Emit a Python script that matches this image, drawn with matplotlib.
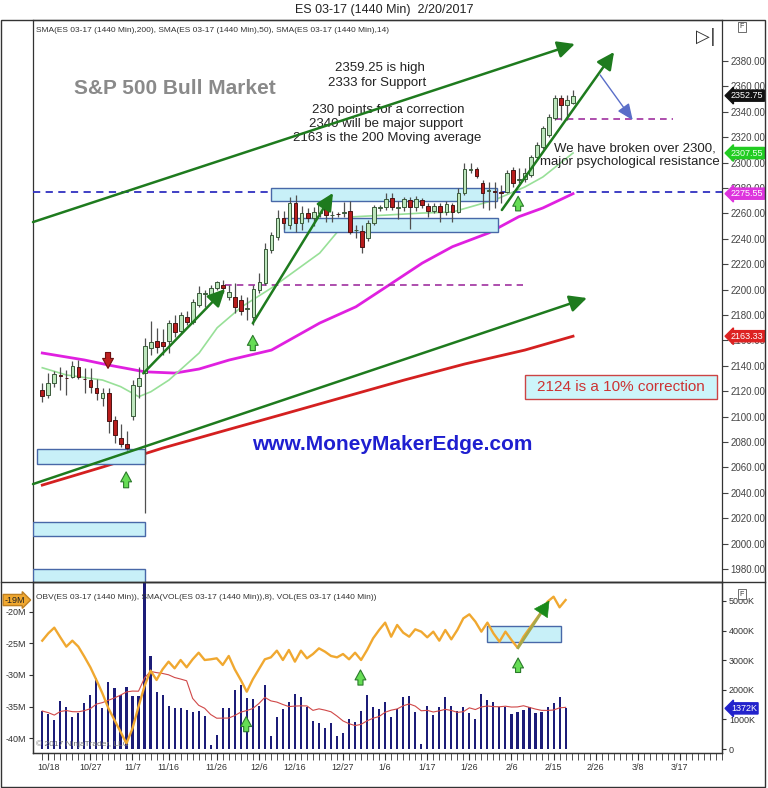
import numpy as np
import pandas as pd
import matplotlib
matplotlib.use("Agg")
import matplotlib.pyplot as plt
import matplotlib.transforms as mtransforms
from matplotlib.patches import Rectangle
from matplotlib.lines import Line2D

plt.rcParams["font.family"] = ["Liberation Sans", "DejaVu Sans"]

# daily bars, bar 0 = 10/17/2016
opens = [2121.0, 2117.0, 2126.5, 2132.5, 2130.5, 2131.4, 2139.3, 2130.0, 2128.8, 2122.5,
         2114.6, 2118.3, 2097.3, 2083.2, 2078.4, 2100.5, 2124.1, 2134.1, 2154.3, 2159.5,
         2159.0, 2159.5, 2173.4, 2167.7, 2178.7, 2174.8, 2187.9, 2196.5, 2195.7, 2201.0,
         2204.0, 2194.5, 2194.4, 2192.0, 2185.0, 2178.7, 2199.7, 2204.9, 2231.2, 2241.7,
         2256.1, 2250.9, 2267.9, 2252.2, 2260.1, 2256.1, 2260.1, 2267.9, 2258.6, 2259.4,
         2260.5, 2261.9, 2246.6, 2246.4, 2240.4, 2252.7, 2264.6, 2264.8, 2271.9, 2264.6,
         2264.8, 2270.5, 2264.8, 2270.5, 2265.8, 2261.9, 2265.8, 2260.8, 2266.6, 2261.4,
         2275.8, 2294.2, 2294.7, 2283.7, 2277.6, 2277.4, 2277.0, 2277.1, 2294.2, 2286.5,
         2286.8, 2290.2, 2304.7, 2312.6, 2322.0, 2334.9, 2350.6, 2345.4, 2346.7]
highs = [2126.5, 2134.0, 2135.9, 2139.0, 2136.7, 2143.8, 2144.6, 2138.0, 2138.0, 2129.6,
         2122.8, 2122.5, 2100.5, 2094.2, 2088.7, 2128.8, 2139.3, 2161.9, 2175.3, 2169.5,
         2168.7, 2176.0, 2180.0, 2182.0, 2183.0, 2193.0, 2203.0, 2200.0, 2204.0, 2207.0,
         2207.5, 2203.5, 2204.9, 2196.0, 2194.0, 2203.6, 2212.8, 2236.4, 2245.6, 2263.0,
         2262.0, 2273.2, 2274.5, 2266.0, 2264.0, 2265.0, 2269.0, 2270.0, 2262.0, 2261.0,
         2269.2, 2270.0, 2250.9, 2251.0, 2255.0, 2267.0, 2267.0, 2275.8, 2275.8, 2270.0,
         2273.0, 2273.0, 2274.0, 2272.0, 2268.0, 2268.0, 2268.0, 2269.5, 2268.0, 2279.7,
         2299.4, 2299.4, 2296.8, 2286.3, 2285.0, 2285.0, 2282.0, 2294.2, 2296.3, 2295.5,
         2295.5, 2306.0, 2316.0, 2329.0, 2338.0, 2353.2, 2353.2, 2353.0, 2357.2]
lows = [2111.5, 2114.6, 2123.3, 2121.0, 2117.0, 2130.4, 2129.6, 2119.0, 2118.6, 2113.0,
        2108.0, 2087.0, 2079.2, 2076.0, 2073.7, 2097.3, 2114.6, 2024.0, 2148.5, 2150.0,
        2148.5, 2150.0, 2163.0, 2165.0, 2172.0, 2173.0, 2186.0, 2186.0, 2194.0, 2200.0,
        2197.0, 2192.0, 2181.3, 2180.0, 2176.0, 2172.0, 2197.0, 2203.6, 2228.6, 2239.0,
        2248.0, 2248.0, 2245.0, 2247.0, 2253.0, 2250.0, 2257.0, 2253.0, 2253.0, 2257.0,
        2257.0, 2244.0, 2240.4, 2228.6, 2238.0, 2250.6, 2262.0, 2263.0, 2263.0, 2256.0,
        2262.0, 2248.0, 2262.0, 2264.0, 2257.0, 2260.0, 2253.0, 2259.0, 2253.0, 2260.0,
        2274.5, 2291.5, 2287.6, 2264.0, 2262.7, 2264.0, 2268.0, 2275.8, 2281.0, 2283.7,
        2285.0, 2289.0, 2303.0, 2311.0, 2320.0, 2333.5, 2333.5, 2333.5, 2346.0]
closes = [2116.2, 2126.7, 2133.5, 2132.0, 2130.2, 2139.8, 2131.4, 2129.4, 2123.5, 2118.6,
          2118.3, 2096.5, 2085.5, 2078.4, 2075.0, 2124.9, 2130.6, 2155.6, 2159.0, 2155.1,
          2155.6, 2174.0, 2166.9, 2180.0, 2174.8, 2190.5, 2197.1, 2196.8, 2201.0, 2206.3,
          2201.0, 2198.0, 2186.6, 2183.0, 2185.6, 2200.2, 2206.2, 2231.7, 2243.0, 2256.1,
          2252.2, 2267.9, 2252.2, 2260.1, 2256.1, 2261.4, 2267.9, 2258.7, 2258.9, 2259.2,
          2261.0, 2245.6, 2246.9, 2233.8, 2252.7, 2264.8, 2265.0, 2271.1, 2264.8, 2265.0,
          2271.1, 2265.3, 2271.1, 2266.6, 2261.9, 2265.8, 2261.4, 2267.4, 2261.4, 2275.8,
          2294.7, 2295.0, 2289.5, 2275.8, 2278.2, 2276.9, 2275.8, 2291.5, 2283.7, 2287.0,
          2291.5, 2304.7, 2313.8, 2327.0, 2336.2, 2350.6, 2345.4, 2349.3, 2352.75]

# volume in K contracts
volume_k = [1284, 1172, 980, 1632, 1430, 1070, 1228, 1566, 1824, 2410,
            1374, 2275, 2050, 1824, 2106, 1790, 1790, 6000, 3141, 1937,
            1824, 1464, 1374, 1374, 1318, 1239, 1284, 1126, 135, 473,
            1396, 1396, 1993, 2162, 1711, 1677, 1452, 2162, 451, 1070,
            1340, 1599, 1846, 1745, 1430, 958, 867, 721, 890, 440,
            530, 1002, 924, 1284, 1824, 1430, 1340, 1599, 1092, 1340,
            1768, 1790, 1239, 158, 1464, 1149, 1407, 1745, 1464, 1284,
            1407, 1205, 1002, 1858, 1655, 1576, 1430, 1430, 1182, 1239,
            1317, 1407, 1205, 1239, 1407, 1543, 1768, 1372]

# on balance volume in millions
obv_m = [-24.55, -23.39, -22.49, -24.02, -25.50, -24.55, -25.50, -27.09, -28.78, -30.79,
         -32.91, -35.29, -37.14, -38.99, -40.85, -38.47, -35.03, -31.75, -29.31, -30.79,
         -29.10, -27.88, -28.94, -27.62, -28.78, -27.51, -26.46, -27.62, -27.51, -27.35,
         -28.41, -26.98, -29.10, -30.79, -32.65, -30.69, -29.10, -27.51, -27.20, -26.14,
         -27.62, -26.03, -27.88, -26.14, -27.35, -26.67, -25.77, -26.30, -26.98, -27.20,
         -26.67, -27.51, -26.46, -27.62, -26.03, -24.18, -22.86, -21.69, -23.92, -22.06,
         -23.28, -23.92, -22.75, -23.12, -24.02, -23.12, -24.55, -22.86, -24.34, -22.86,
         -21.01, -20.37, -21.53, -23.12, -21.69, -23.39, -24.71, -23.12, -24.44, -25.66,
         -23.92, -22.59, -21.27, -19.95, -18.36, -17.57, -19.26, -18.10]

sma200_idx = [0, 10, 20, 30, 40, 50, 60, 70, 80, 88]
sma200 = [2046.1, 2060.3, 2075.3, 2088.7, 2102.0, 2115.4, 2128.8, 2141.4, 2152.4, 2163.33]
sma50_idx = [0, 7, 11, 17, 22, 26, 31, 38, 46, 52, 58, 63, 68, 74, 79, 83, 88]
sma50 = [2150.1, 2144.6, 2140.6, 2135.3, 2134.3, 2137.5, 2144.6, 2152.4, 2173.7, 2186.5,
         2205.2, 2220.9, 2233.8, 2244.6, 2257.4, 2264.3, 2275.55]
sma14_idx = [0, 4, 10, 13, 16, 18, 21, 26, 29, 33, 38, 46, 51, 57, 63, 68, 75, 80, 83, 88]
sma14 = [2138.5, 2132.8, 2128.8, 2123.6, 2115.7, 2119.6, 2128.8, 2150.1, 2170.0, 2186.3,
         2201.3, 2228.8, 2257.2, 2258.7, 2260.3, 2261.1, 2270.6, 2280.8, 2288.7, 2307.55]

date_ticks = [1, 8, 15, 21, 29, 36, 42, 50, 57, 64, 71, 78, 85, 92, 99, 106]
date_labels = ["10/18", "10/27", "11/7", "11/16", "11/26", "12/6", "12/16", "12/27",
               "1/6", "1/17", "1/26", "2/6", "2/15", "2/26", "3/8", "3/17"]
price_ticks = list(range(1980, 2381, 20))

W, H = 768, 788


def fx(px):
    return px / W


def fy(py):
    return 1 - py / H


fig = plt.figure(figsize=(W / 100, H / 100), dpi=100)
ax = fig.add_axes([fx(33), fy(582), (722 - 33) / W, (582 - 20) / H])
ax2 = fig.add_axes([fx(33), fy(753), (722 - 33) / W, (753 - 582) / H])
ax3 = ax2.twinx()
ax2.set_zorder(ax3.get_zorder() + 1)
ax2.patch.set_visible(False)

x = np.arange(len(closes))
o = np.array(opens)
c = np.array(closes)
up = c >= o
body = np.maximum(np.abs(c - o), 0.5)
bottom = np.minimum(o, c)

# main price panel
ax.plot(sma200_idx, sma200, color="#d42020", lw=2, zorder=2)
ax.plot(sma50_idx, sma50, color="#e020e0", lw=2, zorder=2)
ax.plot(sma14_idx, sma14, color="#98e098", lw=1.2, zorder=2)

ax.vlines(x, lows, highs, color="#505050", lw=0.9, zorder=4)
ax.bar(x[up], body[up], bottom=bottom[up], width=0.62, color="#bde6bd",
       edgecolor="#3a5a3a", lw=0.7, zorder=5)
ax.bar(x[~up], body[~up], bottom=bottom[~up], width=0.62, color="#b81c1c",
       edgecolor="#4a1515", lw=0.7, zorder=5)

ax.axhline(2277, color="#3030c0", ls=(0, (4, 3)), lw=1.3, zorder=3)
ax.plot([30.3, 79.7], [2203.6, 2203.6], color="#a030a0", ls=(0, (4, 3)), lw=1.2, zorder=3)
ax.plot([85, 104.6], [2334.3, 2334.3], color="#a030a0", ls=(0, (4, 3)), lw=1.2, zorder=3)

boxes = [(37.9, 2270.0, 37.5, 9.8), (40.0, 2245.6, 35.5, 10.5), (-0.9, 2062.7, 17.9, 11.8),
         (-1.5, 2006.2, 18.5, 11.0), (-1.5, 1960.0, 18.5, 19.8)]
for bx, by, bw, bh in boxes:
    ax.add_patch(Rectangle((bx, by), bw, bh, fc="#c8f0f8", ec="#4868a8", lw=1, zorder=3.5))

green_arrow = dict(arrowstyle="-|>,head_length=0.65,head_width=0.32", color="#1e7b1e",
                   lw=1.8, mutation_scale=16, shrinkA=0, shrinkB=0)
for (x0, y0), (x1, y1) in [((-1.54, 2253.2), (88.3, 2393.4)),
                           ((-1.54, 2046.9), (90.3, 2193.4)),
                           ((16.75, 2134.1), (30.3, 2200.5)),
                           ((34.9, 2173.5), (48.2, 2276.1)),
                           ((76.2, 2262.7), (94.8, 2387.1))]:
    ax.annotate("", xy=(x1, y1), xytext=(x0, y0), arrowprops=green_arrow, zorder=6)
ax.annotate("", xy=(97.9, 2333.5), xytext=(92.5, 2369),
            arrowprops=dict(arrowstyle="-|>,head_length=0.7,head_width=0.3", color="#5a6ec8",
                            lw=1, mutation_scale=14, shrinkA=0, shrinkB=0), zorder=6)

block_up = dict(arrowstyle="simple,head_length=0.55,head_width=0.6,tail_width=0.28",
                fc="#66dd55", ec="#2a7a2a", lw=0.8, mutation_scale=13, shrinkA=0, shrinkB=0)
for bx, tip, tail in [(13.9, 2056.5, 2044.0), (34.9, 2164.0, 2152.0), (78.9, 2273.5, 2262.0)]:
    ax.annotate("", xy=(bx, tip), xytext=(bx, tail), arrowprops=block_up, zorder=7)
ax.annotate("", xy=(10.9, 2138.0), xytext=(10.9, 2150.5),
            arrowprops=dict(block_up, fc="#c02020", ec="#701010"), zorder=7)

note = dict(ha="center", va="center", fontsize=9.5, color="#222222")
ax.text(22.0, 2358.7, "S&P 500 Bull Market", ha="center", va="center", fontsize=15,
        fontweight="bold", color="#8a8a8a")
ax.text(56.0, 2374.5, "2359.25 is high", **note)
ax.text(55.5, 2362.7, "2333 for Support", **note)
ax.text(57.3, 2341.4, "230 points for a correction", **note)
ax.text(57.0, 2330.4, "2340 will be major support", **note)
ax.text(57.2, 2319.4, "2163 is the 200 Moving average", **note)
ax.text(111.7, 2311.5, "We have broken over 2300,", ha="right", va="center", fontsize=9.5,
        color="#222222")
ax.text(112.3, 2300.5, "major psychological resistance", ha="right", va="center", fontsize=9.5,
        color="#222222")
ax.add_patch(Rectangle((80.05, 2113.9), 31.85, 18.9, fc="#ccf5fa", ec="#cc4444", lw=1, zorder=3))
ax.text(96.0, 2123.3, "2124 is a 10% correction", ha="center", va="center", fontsize=11,
        color="#cc3333", zorder=4)
ax.text(58.0, 2078.4, "www.MoneyMakerEdge.com", ha="center", va="center", fontsize=15,
        fontweight="bold", color="#1f1fd0")
ax.text(0.0045, 0.982, "SMA(ES 03-17 (1440 Min),200), SMA(ES 03-17 (1440 Min),50), "
        "SMA(ES 03-17 (1440 Min),14)", transform=ax.transAxes, ha="left", va="center",
        fontsize=6, color="#333333")

ax.set_xlim(-1.54, 112.7)
ax.set_ylim(1969.8, 2412.3)
ax.set_xticks([])
ax.yaxis.tick_right()
ax.set_yticks(price_ticks)
ax.set_yticklabels([f"{p:.2f}" for p in price_ticks])
ax.tick_params(axis="y", direction="out", length=4, labelsize=7, colors="#444444", pad=2)
for s in ax.spines.values():
    s.set_color("#333333")
    s.set_linewidth(0.9)

trans = mtransforms.blended_transform_factory(ax.transAxes, ax.transData)
for val, fc, tc in [(2352.75, "#111111", "white"), (2307.55, "#22cc22", "#e8ffe8"),
                    (2275.55, "#dd33dd", "white"), (2163.33, "#dd2222", "white")]:
    ax.text(1.013, val, f"{val:.2f}", transform=trans, ha="left", va="center", fontsize=6.5,
            color=tc, bbox=dict(boxstyle="larrow,pad=0.12", fc=fc, ec=fc), clip_on=False,
            zorder=10)

# lower panel: OBV, volume and its 8 bar average
vx = np.arange(len(volume_k))
vol_sma = pd.Series(volume_k).rolling(8, min_periods=1).mean()
ax3.bar(vx, volume_k, width=0.35, color="#1c1c78", zorder=2)
ax3.plot(vx, vol_sma, color="#d04848", lw=0.8, zorder=3)
ax2.plot(np.arange(len(obv_m)), obv_m, color="#f0a830", lw=1.7, zorder=4)

ax2.add_patch(Rectangle((74.0, -24.8), 12.3, 2.6, fc="#c8f0f8", ec="#4868a8", lw=1, zorder=3))
ax2.plot([79.1, 84.0], [-25.67, -18.6], color="#a8a84a", lw=2, zorder=5)
ax2.annotate("", xy=(84.3, -18.2), xytext=(83.6, -19.2),
             arrowprops=dict(arrowstyle="-|>,head_length=0.65,head_width=0.35", color="#1a8a1a",
                             lw=0.5, mutation_scale=16, shrinkA=0, shrinkB=0), zorder=6)
for bx, tip, tail in [(33.9, -36.6, -39.0), (52.9, -29.2, -31.6), (79.1, -27.3, -29.6)]:
    ax2.annotate("", xy=(bx, tip), xytext=(bx, tail), arrowprops=block_up, zorder=7)

ax2.set_xlim(-1.54, 112.7)
ax2.set_ylim(-42.38, -15.24)
ax3.set_ylim(-135, 5641)
ax2.set_yticks([-20, -25, -30, -35, -40])
ax2.set_yticklabels(["-20M", "-25M", "-30M", "-35M", "-40M"])
ax3.set_yticks([0, 1000, 2000, 3000, 4000, 5000])
ax3.set_yticklabels(["0", "1000K", "2000K", "3000K", "4000K", "5000K"])
ax2.set_xticks(date_ticks)
ax2.set_xticklabels(date_labels)
ax2.set_xticks(np.arange(0, 114), minor=True)
ax2.tick_params(axis="x", which="both", direction="out", length=5, labelsize=6.5,
                colors="#333333", pad=2)
ax2.tick_params(axis="y", direction="out", length=3, labelsize=6.5, colors="#333333", pad=2)
ax3.tick_params(axis="y", direction="out", length=3, labelsize=6.5, colors="#333333", pad=2)
for a in (ax2, ax3):
    for s in a.spines.values():
        s.set_color("#333333")
        s.set_linewidth(0.9)

trans2 = mtransforms.blended_transform_factory(ax2.transAxes, ax2.transData)
ax2.text(-0.012, obv_m[-1], "-19M", transform=trans2, ha="right", va="center", fontsize=6.5,
         color="#222222", bbox=dict(boxstyle="rarrow,pad=0.12", fc="#f0a830", ec="#c08020"),
         clip_on=False, zorder=10)
trans3 = mtransforms.blended_transform_factory(ax3.transAxes, ax3.transData)
ax3.text(1.013, volume_k[-1], "1372K", transform=trans3, ha="left", va="center", fontsize=6.5,
         color="white", bbox=dict(boxstyle="larrow,pad=0.12", fc="#2222cc", ec="#2222cc"),
         clip_on=False, zorder=10)
ax2.text(0.0045, 0.91, "OBV(ES 03-17 (1440 Min)), SMA(VOL(ES 03-17 (1440 Min)),8), "
         "VOL(ES 03-17 (1440 Min))", transform=ax2.transAxes, ha="left", va="center",
         fontsize=6, color="#333333")
ax2.text(0.004, 0.03, "© 2017 NinjaTrader, LLC", transform=ax2.transAxes, ha="left",
         va="bottom", fontsize=6, color="#777777")

# chart frame and header
fig.text(0.5, fy(10), "ES 03-17 (1440 Min)  2/20/2017", ha="center", va="center", fontsize=9,
         color="#222222")
fig.add_artist(Rectangle((fx(1), fy(787)), fx(764), (787 - 20) / H, transform=fig.transFigure,
                         fill=False, ec="#333333", lw=1))
fig.add_artist(Line2D([fx(1), fx(765)], [fy(582), fy(582)], color="#333333", lw=1))
fig.text(fx(706), fy(37), "▷|", ha="center", va="center", fontsize=13, color="#333333",
         family="DejaVu Sans")
for py in (27, 594):
    fig.text(fx(742), fy(py), "F", ha="center", va="center", fontsize=5, color="#333333",
             bbox=dict(boxstyle="square,pad=0.25", fc="white", ec="#555555", lw=0.6))

fig.savefig("out.png", dpi=100)
